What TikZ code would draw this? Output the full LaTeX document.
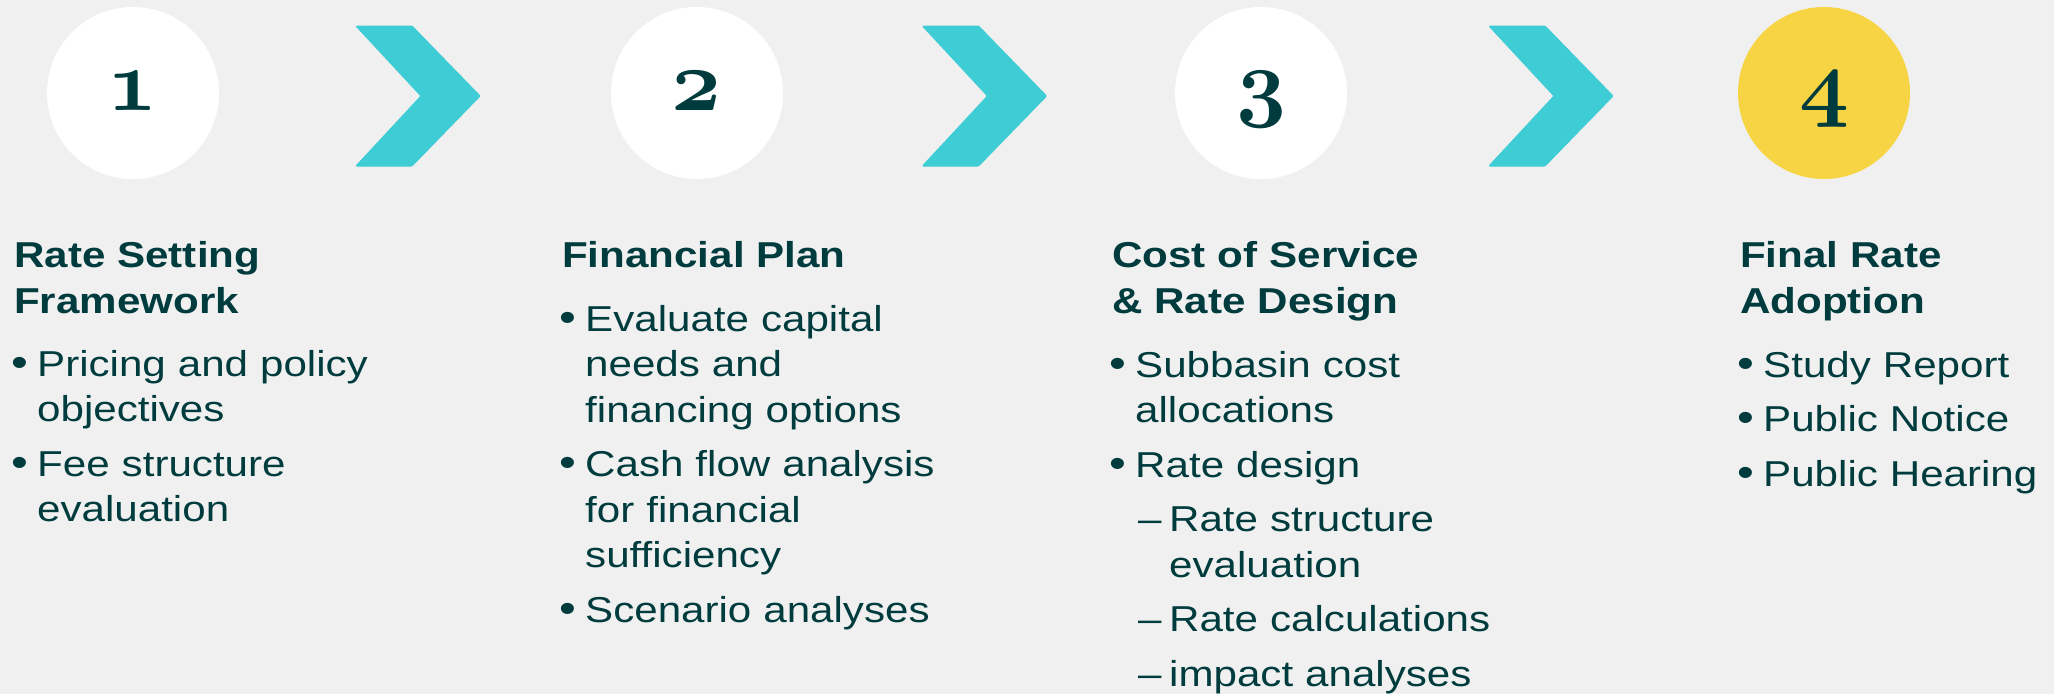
\documentclass[tikz,border=0pt]{standalone}
\usepackage{fontspec}
\setmainfont{Liberation Sans}[FakeStretch=1.17]
\usepackage{tikz}
\usetikzlibrary{positioning}
\definecolor{bgcol}{HTML}{F0F0F0}
\definecolor{tealtxt}{HTML}{003B3D}
\definecolor{chevcol}{HTML}{3ECCD5}
\definecolor{goldcol}{HTML}{F6D443}
\font\stepnum=cmmib10 at 87pt
\newlength{\itemgap}
\setlength{\itemgap}{9pt}
\newcommand{\bigbullet}{\hspace*{-3pt}{\fontsize{41}{0}\selectfont\textbullet}}
\newcommand{\itm}[1]{\parskip=\itemgap\hangindent=23pt\hangafter=1\noindent\makebox[23pt][l]{\bigbullet}#1\par}
\newcommand{\subitm}[1]{\parskip=\itemgap\hangindent=57pt\hangafter=1\noindent\hspace*{26pt}\makebox[31pt][l]{–}#1\par}

\begin{document}
\begin{tikzpicture}[x=1pt, y=-1pt,
    disc/.style={circle, fill=white, minimum size=172pt, inner sep=0pt},
    num/.style={anchor=base, inner sep=0pt, text=tealtxt, font=\stepnum},
    chev/.style={fill=chevcol, draw=chevcol, line width=1pt, rounded corners=1pt},
    head/.style={anchor=base west, inner sep=0pt, text width=520pt, text=tealtxt,
      font=\fontsize{36}{46}\selectfont\bfseries},
    list/.style={anchor=base west, inner sep=0pt, text width=540pt, text=tealtxt,
      font=\fontsize{36}{45.5}\selectfont}]
\useasboundingbox (0,0) rectangle (2054,694);
\fill[bgcol] (0,0) rectangle (2054,694);

% step circles
\node[disc] (c1) at (133,93) {};
\node[disc] (c2) at (697,93) {};
\node[disc] (c3) at (1261,93) {};
\node[disc, fill=goldcol] (c4) at (1824,93) {};
\foreach \i in {1,2,3,4}
  \node[num] (n\i) at ([yshift=-17pt]c\i.center) {\i};

% chevrons
\foreach \lx in {356,922.5,1489}
  \draw[chev] (\lx,26) -- ++(56,0) -- ++(68,70) -- ++(-68,70) -- ++(-56,0) -- ++(65,-70) -- cycle;

% headings
\node[head] (h1) at (14,267) {Rate Setting\newline Framework};
\node[head] (h2) at (562,267) {Financial Plan};
\node[head] (h3) at (1112,267) {Cost of Service\newline \& Rate Design};
\node[head] (h4) at (1740,267) {Final Rate\newline Adoption};

% bullet lists
\node[list] (l1) at (14,376) {\itm{Pricing and policy\newline objectives}
  \itm{Fee structure\newline evaluation}};
\node[list] (l2) at (562,331) {\itm{Evaluate capital\newline needs and\newline financing options}
  \itm{Cash flow analysis\newline for financial\newline sufficiency}
  \itm{Scenario analyses}};
\node[list] (l3) at (1112,377) {\itm{Subbasin cost\newline allocations}
  \itm{Rate design}
  \subitm{Rate structure\newline evaluation}
  \subitm{Rate calculations}
  \subitm{impact analyses}};
\node[list] (l4) at (1740,377) {\itm{Study Report}
  \itm{Public Notice}
  \itm{Public Hearing}};
\end{tikzpicture}
\end{document}
